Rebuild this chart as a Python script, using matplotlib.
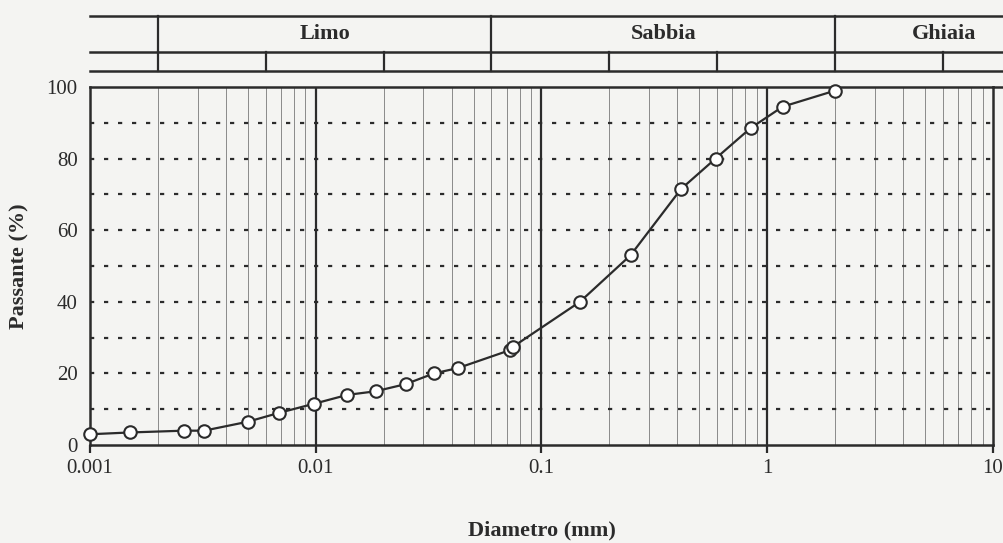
import numpy as np
import matplotlib.pyplot as plt

plt.rcParams['font.family'] = ['Liberation Serif', 'DejaVu Serif']

# Grain size distribution
diameter_mm = [0.001, 0.0015, 0.0026, 0.0032, 0.005, 0.0069, 0.0098, 0.0138, 0.0184,
               0.025, 0.0334, 0.0427, 0.0725, 0.075, 0.148, 0.248, 0.415, 0.59,
               0.843, 1.17, 2.0]
passing_pct = [3, 3.5, 4, 4, 6.5, 9, 11.5, 14, 15, 17, 20, 21.5, 26.5, 27.5, 40, 53,
               71.5, 80, 88.5, 94.5, 99]

x_ticks = [0.001, 0.01, 0.1, 1, 10]
x_tick_labels = ['0.001', '0.01', '0.1', '1', '10']
y_ticks = [0, 20, 40, 60, 80, 100]

# classification header (Limo / Sabbia / Ghiaia)
class_names = ['Limo', 'Sabbia', 'Ghiaia']
class_label_x = [0.011, 0.346, 6.1]
class_bounds = [0.002, 0.06, 2]
sub_bounds = [0.002, 0.006, 0.02, 0.06, 0.2, 0.6, 2, 6]

ink = '#2b2b2b'
paper = '#f4f4f2'

W, H = 1004, 543
fig = plt.figure(figsize=(W / 100, H / 100), dpi=100, facecolor=paper)
left, right, top, bottom = 90, 993, 87, 445
ax = fig.add_axes([left / W, 1 - bottom / H, (right - left) / W, (bottom - top) / H])
ax.set_facecolor(paper)
ax.set_xscale('log')
ax.set_xlim(0.001, 10)
ax.set_ylim(0, 100)

# thin vertical lines at 2..9 of each decade
for dec in [0.001, 0.01, 0.1, 1]:
    for k in range(2, 10):
        ax.axvline(dec * k, color='#8a8a8a', lw=0.7, zorder=1)
for v in [0.01, 0.1, 1]:
    ax.axvline(v, color=ink, lw=1.6, zorder=2)

# dotted horizontal lines
for yv in range(10, 100, 10):
    ax.plot([0.001, 10.3], [yv, yv], color=ink, lw=1.6, linestyle=(0, (1.9, 4.4)),
            clip_on=False, zorder=2)

ax.plot(diameter_mm, passing_pct, color=ink, lw=1.6, marker='o', markersize=9,
        markerfacecolor='white', markeredgecolor=ink, markeredgewidth=1.5,
        clip_on=False, zorder=5)

for s in ax.spines.values():
    s.set_color(ink)
    s.set_linewidth(1.8)

ax.set_xticks(x_ticks)
ax.set_xticklabels(x_tick_labels)
ax.xaxis.set_minor_locator(plt.NullLocator())
ax.set_yticks(y_ticks)
ax.tick_params(axis='x', direction='out', length=6, width=1.6, color=ink, pad=4,
               labelsize=15, labelcolor=ink)
ax.tick_params(axis='y', length=0, pad=9, labelsize=15, labelcolor=ink)
ax.set_xlabel('Diametro (mm)', fontsize=16, fontweight='bold', color=ink, labelpad=31)
ax.set_ylabel('Passante (%)', fontsize=16, fontweight='bold', color=ink, labelpad=12)

# header table above the plot
hx = fig.add_axes([left / W, 1 - top / H, (right - left) / W, (top - 16) / H])
hx.set_xscale('log')
hx.set_xlim(0.001, 10)
hx.set_ylim(0, 1)
hx.axis('off')
x_end = 11.3
for yv in [1.0, 0.493, 0.225]:
    hx.plot([0.001, x_end], [yv, yv], color=ink, lw=1.8, clip_on=False)
hx.plot([10, x_end], [0, 0], color=ink, lw=1.8, clip_on=False)
for b in class_bounds:
    hx.plot([b, b], [0.493, 1.0], color=ink, lw=1.6, clip_on=False)
for b in sub_bounds:
    hx.plot([b, b], [0.225, 0.493], color=ink, lw=1.6, clip_on=False)
for name, xc in zip(class_names, class_label_x):
    hx.text(xc, 0.75, name, ha='center', va='center', fontsize=16,
            fontweight='bold', color=ink)

fig.savefig('out.png', dpi=100, facecolor=paper)
